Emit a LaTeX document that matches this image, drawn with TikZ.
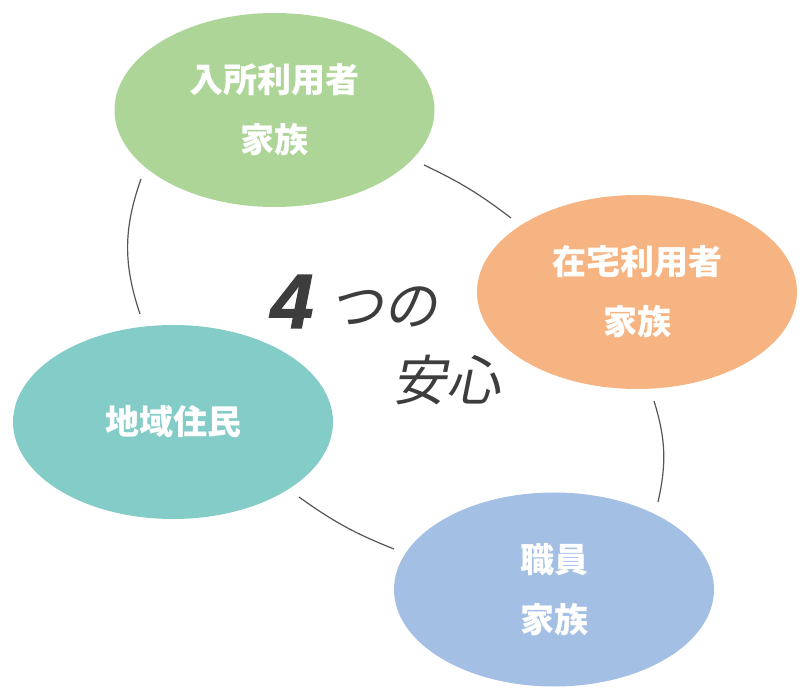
\documentclass[tikz,border=0pt]{standalone}
\usepackage{fontspec}
\usetikzlibrary{shapes.geometric}
\newfontfamily\cjk{Noto Sans CJK JP}
\newfontfamily\cjkslant{Noto Sans CJK JP}[FakeSlant=0.2]
\newfontfamily\digitfont{Liberation Sans}[FakeBold=1.5]
\definecolor{cgreen}{HTML}{AED598}
\definecolor{corange}{HTML}{F6B482}
\definecolor{cteal}{HTML}{84CCC7}
\definecolor{cblue}{HTML}{A3BFE4}
\definecolor{ctext}{HTML}{3D3D3D}
\definecolor{cline}{HTML}{555555}
\begin{document}
\begin{tikzpicture}[x=1pt,y=-1pt,
  blob/.style={ellipse, draw=none, minimum width=320pt, minimum height=194pt, inner sep=0pt,
    text=white, align=center, font=\cjk\bfseries\fontsize{34}{60}\selectfont},
  link/.style={draw=cline, line width=1.2pt},
  bigtext/.style={text=ctext, inner sep=0pt, font=\cjkslant\fontsize{54}{60}\selectfont}]
\useasboundingbox (0,0) rectangle (809,700);
\node[blob, fill=cgreen] (g) at (274.5,110) {入所利用者\\家族};
\node[blob, fill=corange] (o) at (637,292) {在宅利用者\\家族};
\node[blob, fill=cteal] (t) at (173,422) {地域住民};
\node[blob, fill=cblue] (b) at (554,589.5) {職員\\家族};
\node[text=ctext, inner sep=0pt, anchor=base, font=\digitfont\bfseries\itshape\fontsize{77}{80}\selectfont] (four) at (292,328) {4};
\node[bigtext] (tsuno) at (383,307) {つの};
\node[bigtext] (anshin) at (446.5,380) {安心};
\coordinate (g1) at (424,165);
\coordinate (o1) at (511,218);
\coordinate (o2) at (654,401);
\coordinate (b1) at (658,502);
\coordinate (b2) at (394,549);
\coordinate (t1) at (299,497);
\coordinate (t2) at (140,314);
\coordinate (g2) at (141,179);
\draw[link] (g1) to[bend left=6] (o1);
\draw[link] (o2) to[bend left=15] (b1);
\draw[link] (t1) to[bend right=7] (b2);
\draw[link] (g2) to[bend right=19] (t2);
\end{tikzpicture}
\end{document}
